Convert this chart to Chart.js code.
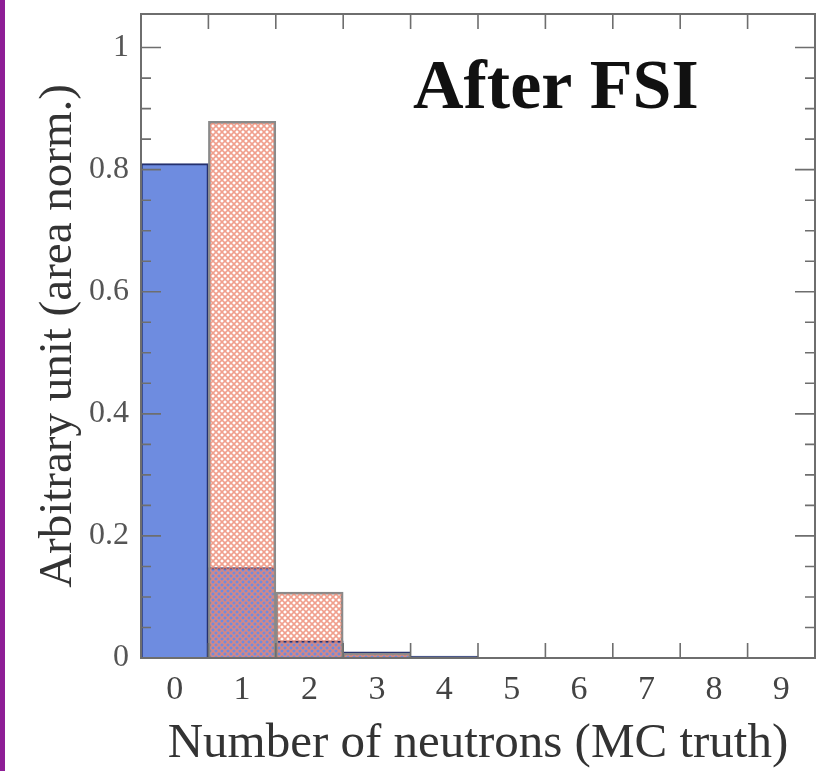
<!DOCTYPE html>
<html>
<head>
<meta charset="utf-8">
<script src="https://cdn.jsdelivr.net/npm/chart.js@4"></script>
<style>
  html, body { margin: 0; padding: 0; background: #fff; }
  #wrap { position: relative; width: 820px; height: 771px; }
  #edge { position: absolute; left: 0; top: 0; width: 5px; height: 771px; background: #8e1e96; z-index: 2; }
</style>
</head>
<body>
<div id="wrap">
  <div id="edge"></div>
  <canvas id="fsi" width="820" height="771"></canvas>
</div>
<script>
// bins: number of neutrons
const categories = ['0', '1', '2', '3', '4', '5', '6', '7', '8', '9'];
// blue (solid) histogram
const blueVals = [0.81, 0.148, 0.028, 0.01, 0.003, 0, 0, 0, 0, 0];
// red (hatched) histogram
const redVals = [0, 0.879, 0.108, 0.008, 0.002, 0, 0, 0, 0, 0];
const yMajor = [0, 0.2, 0.4, 0.6, 0.8, 1];

const serif = 'Liberation Serif';

// salmon cross-hatch fill
function hatch() {
  const c = document.createElement('canvas');
  c.width = 6; c.height = 6;
  const g = c.getContext('2d');
  g.strokeStyle = 'rgba(236,135,112,0.8)';
  g.lineWidth = 1.6;
  g.beginPath();
  g.moveTo(0, 0); g.lineTo(6, 6);
  g.moveTo(6, 0); g.lineTo(0, 6);
  g.stroke();
  return g.createPattern(c, 'repeat');
}

// frame, inward ticks and the "After FSI" label
const frame = {
  id: 'frame',
  afterDraw(chart) {
    const { ctx, chartArea: a, scales } = chart;
    const x = scales.x, y = scales.y;
    ctx.save();
    ctx.strokeStyle = '#6e6e6e';
    ctx.lineWidth = 2;
    ctx.strokeRect(a.left, a.top, a.right - a.left, a.bottom - a.top);

    ctx.lineWidth = 1.6;
    ctx.beginPath();
    for (let i = 0; i <= 20; i++) {
      const v = i * 0.05;
      const py = y.getPixelForValue(v);
      const len = (i % 4 === 0) ? 20 : 10;
      ctx.moveTo(a.left, py); ctx.lineTo(a.left + len, py);
      ctx.moveTo(a.right, py); ctx.lineTo(a.right - len, py);
    }
    for (let i = 0; i < categories.length - 1; i++) {
      const px = (x.getPixelForValue(i) + x.getPixelForValue(i + 1)) / 2;
      ctx.moveTo(px, a.bottom); ctx.lineTo(px, a.bottom - 15);
      ctx.moveTo(px, a.top); ctx.lineTo(px, a.top + 15);
    }
    ctx.stroke();

    ctx.fillStyle = '#111';
    ctx.font = 'bold 70px "' + serif + '"';
    ctx.textBaseline = 'alphabetic';
    ctx.fillText('After FSI', a.left + 272, a.top + 94);
    ctx.restore();
  }
};

new Chart(document.getElementById('fsi'), {
  type: 'bar',
  data: {
    labels: categories,
    datasets: [
      {
        label: 'red',
        data: redVals,
        backgroundColor: hatch(),
        borderColor: '#8a8a8a',
        borderWidth: 2,
        grouped: false,
        order: 0
      },
      {
        label: 'blue',
        data: blueVals,
        backgroundColor: '#6e8ce0',
        borderColor: '#24306e',
        borderWidth: 2,
        grouped: false,
        order: 1
      }
    ]
  },
  plugins: [frame],
  options: {
    responsive: false,
    animation: false,
    categoryPercentage: 1,
    barPercentage: 1,
    layout: { padding: { top: 14, right: 5, left: 0, bottom: 0 } },
    plugins: {
      legend: { display: false },
      tooltip: { enabled: false }
    },
    scales: {
      x: {
        offset: true,
        grid: { display: false },
        border: { display: false },
        afterFit: s => { s.height = 113; },
        ticks: {
          color: '#444',
          padding: 4,
          font: { family: serif, size: 34 }
        },
        title: {
          display: true,
          text: 'Number of neutrons (MC truth)',
          color: '#333',
          font: { family: serif, size: 49 },
          padding: { top: 0, bottom: -3 }
        }
      },
      y: {
        min: 0,
        max: 1.055,
        grid: { display: false },
        border: { display: false },
        afterFit: s => { s.width = 141; s.paddingTop = 0; s.paddingBottom = 0; },
        afterBuildTicks: s => { s.ticks = yMajor.map(v => ({ value: v })); },
        ticks: {
          color: '#555',
          padding: 4,
          font: { family: serif, size: 32 },
          callback: v => String(v)
        },
        title: {
          display: true,
          text: 'Arbitrary unit (area norm.)',
          color: '#333',
          font: { family: serif, size: 47 },
          padding: { top: 30, bottom: 0 }
        }
      }
    }
  }
});
</script>
</body>
</html>
